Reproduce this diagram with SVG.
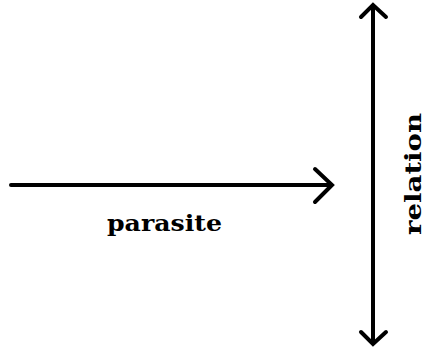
<svg xmlns="http://www.w3.org/2000/svg" width="427" height="347" viewBox="0 0 427 347">
<style>
.ln{fill:none;stroke:#000;stroke-width:4;stroke-linecap:round;stroke-linejoin:miter}
.lbl{font-family:"DejaVu Serif","Liberation Serif",serif;font-weight:bold;font-size:23px;fill:#000}
</style>
<rect width="427" height="347" fill="#fff"/>
<g id="connectors">
<g id="parasite-arrow">
<path class="ln" d="M11,185 H331"/>
<path class="ln" d="M315,169 L332,185 L315,202"/>
</g>
<g id="relation-arrow">
<path class="ln" d="M373,6 V343"/>
<path class="ln" d="M361,17 L373,5 L386,17"/>
<path class="ln" d="M361,332 L373,344 L386,332"/>
</g>
</g>
<g id="label-parasite">
<text class="lbl" x="107" y="231" textLength="115" lengthAdjust="spacingAndGlyphs">parasite</text>
</g>
<g id="label-relation">
<text class="lbl" style="font-size:22px" transform="translate(421,235) rotate(-90)" x="0" y="0" textLength="122" lengthAdjust="spacingAndGlyphs">relation</text>
</g>
</svg>
